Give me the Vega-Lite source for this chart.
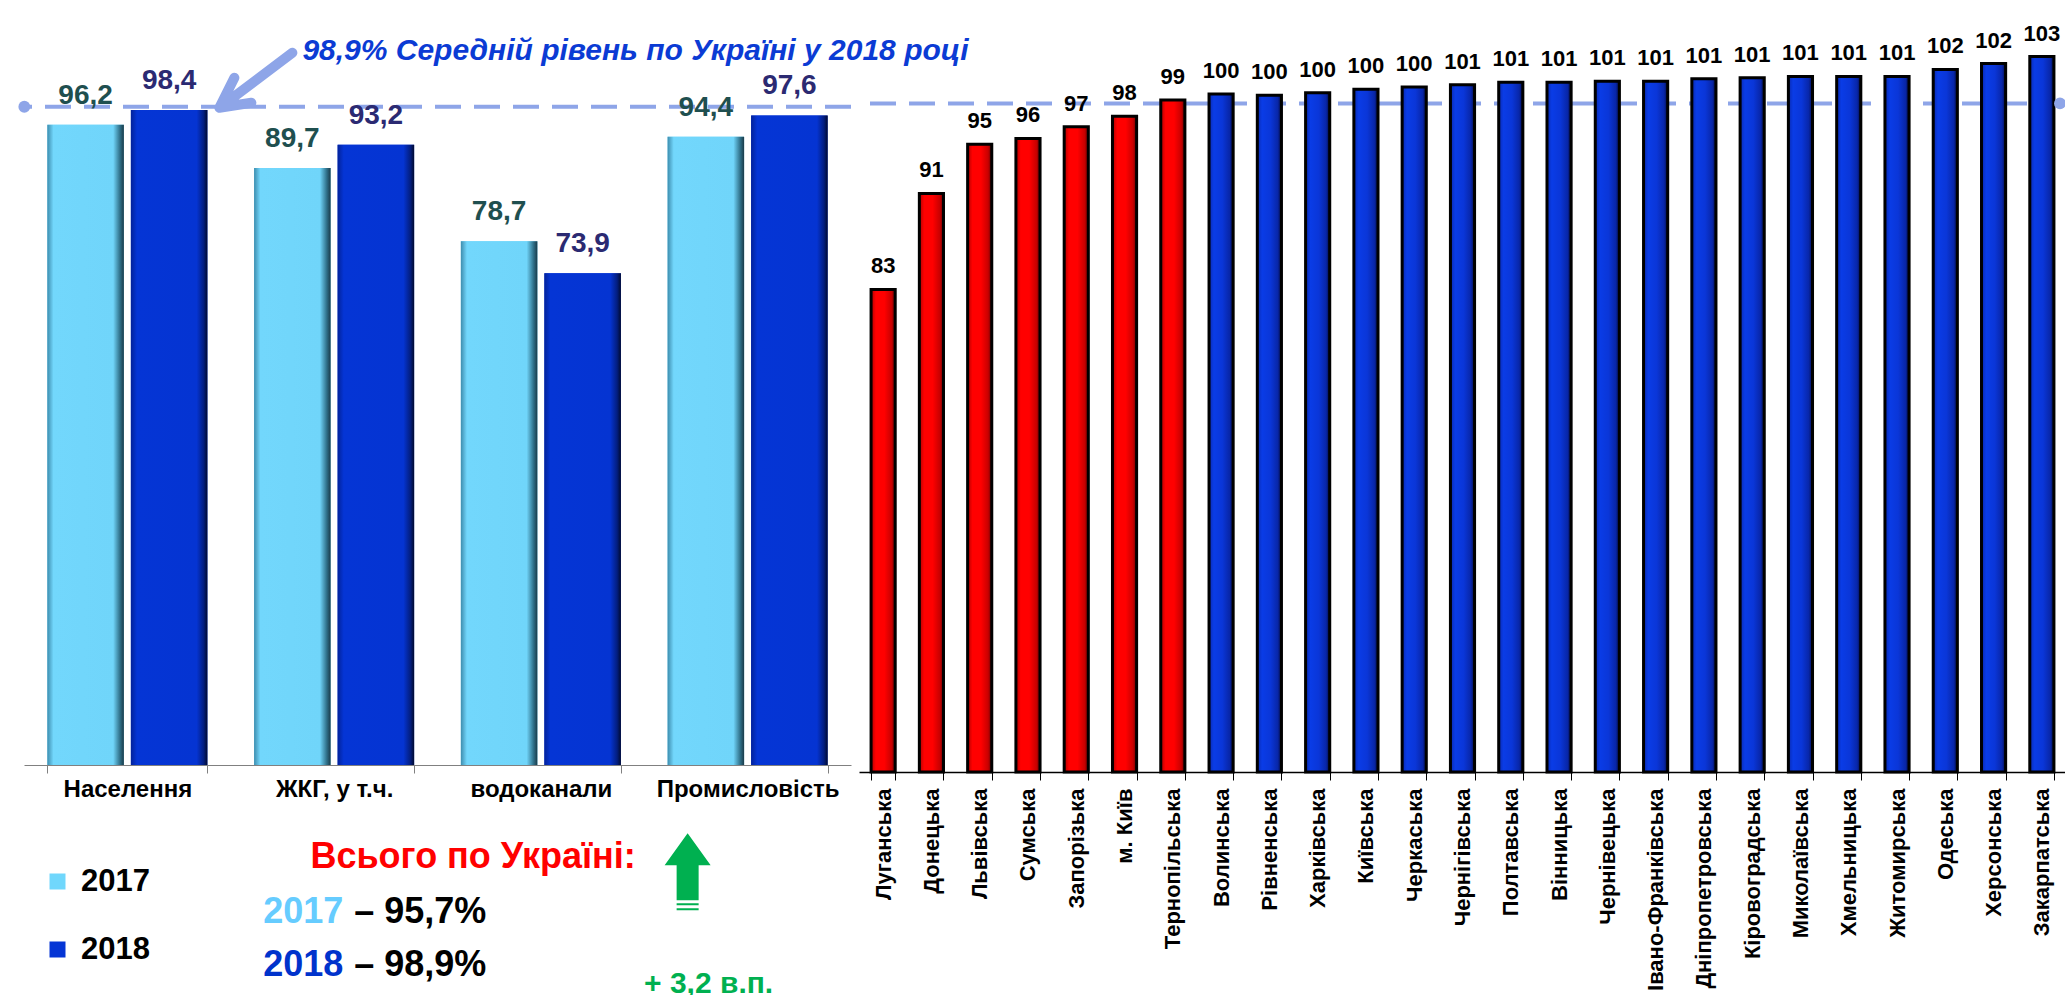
{
  "$schema": "https://vega.github.io/schema/vega-lite/v6.json",
  "padding": {"left": 18, "top": 22, "right": 0, "bottom": 0},
  "background": "white",
  "spacing": 8,
  "bounds": "flush",
  "config": {
    "view": {"stroke": null},
    "font": "Liberation Sans",
    "locale": {"number": {"decimal": ",", "thousands": " ", "grouping": [3], "currency": ["", ""]}},
    "axis": {"tickBand": "extent"}
  },
  "hconcat": [
    {
      "width": 827,
      "height": 740,
      "data": {"values": [
        {"category": "Населення", "year": "2017", "value": 96.2},
        {"category": "Населення", "year": "2018", "value": 98.4},
        {"category": "ЖКГ, у т.ч.", "year": "2017", "value": 89.7},
        {"category": "ЖКГ, у т.ч.", "year": "2018", "value": 93.2},
        {"category": "водоканали", "year": "2017", "value": 78.7},
        {"category": "водоканали", "year": "2018", "value": 73.9},
        {"category": "Промисловість", "year": "2017", "value": 94.4},
        {"category": "Промисловість", "year": "2018", "value": 97.6}
      ]},
      "layer": [
        {
          "data": {"values": [{"avg": 98.9}]},
          "mark": {"type": "rule", "color": "#8EA5E8", "strokeWidth": 4, "strokeDash": [26, 13]},
          "encoding": {
            "y": {"field": "avg", "type": "quantitative", "scale": {"domain": [0, 111.18], "nice": false}, "axis": null}
          }
        },
        {
          "mark": {"type": "bar"},
          "encoding": {
            "x": {"field": "category", "type": "nominal", "sort": null,
              "scale": {"domain": ["Населення", "ЖКГ, у т.ч.", "водоканали", "Промисловість"], "paddingInner": 0.226, "paddingOuter": 0.113},
              "axis": {"title": null, "labelAngle": 0, "labelFontSize": 24, "labelFontWeight": "bold", "labelColor": "#000000",
                "domainColor": "#808080", "tickColor": "#808080", "tickSize": 8, "labelPadding": 4, "labelLimit": 400}},
            "xOffset": {"field": "year", "type": "nominal", "scale": {"paddingInner": 0.084}},
            "y": {"field": "value", "type": "quantitative", "axis": null},
            "color": {"field": "year", "type": "nominal",
              "scale": {"domain": ["2017", "2018"], "range": ["#70D7FC", "#0535D5"]},
              "legend": {"orient": "none", "legendX": 18, "legendY": 841, "title": null, "symbolType": "square",
                "symbolSize": 256, "labelFontSize": 31, "labelFontWeight": "bold", "labelColor": "#000000",
                "rowPadding": 36, "labelOffset": 8, "padding": 0, "symbolStrokeWidth": 0}}
          }
        },
        {
          "mark": {"type": "bar"},
          "encoding": {
            "x": {"field": "category", "type": "nominal", "sort": null},
            "xOffset": {"field": "year", "type": "nominal"},
            "y": {"field": "value", "type": "quantitative", "axis": null},
            "color": {
              "condition": {"test": "datum.year === '2017'",
                "value": {"gradient": "linear", "x1": 0, "y1": 0, "x2": 1, "y2": 0,
                  "stops": [{"offset": 0, "color": "#3E8DAE"}, {"offset": 0.08, "color": "#72D7FC"}, {"offset": 0.86, "color": "#70D5FA"}, {"offset": 0.95, "color": "#2F6F88"}, {"offset": 1, "color": "#1A3A48"}]}},
              "value": {"gradient": "linear", "x1": 0, "y1": 0, "x2": 1, "y2": 0,
                "stops": [{"offset": 0, "color": "#03229A"}, {"offset": 0.08, "color": "#0535D5"}, {"offset": 0.86, "color": "#0534D2"}, {"offset": 0.95, "color": "#031E80"}, {"offset": 1, "color": "#010A30"}]}
            }
          }
        },
        {
          "data": {"values": [{"avg": 98.9}]},
          "mark": {"type": "point", "filled": true, "color": "#8EA5E8", "size": 140, "opacity": 1},
          "encoding": {
            "x": {"datum": "Населення", "type": "nominal", "bandPosition": -0.144},
            "y": {"field": "avg", "type": "quantitative", "axis": null}
          }
        },
        {
          "mark": {"type": "text", "fontSize": 28, "fontWeight": "bold", "baseline": "alphabetic", "dy": -21},
          "encoding": {
            "x": {"field": "category", "type": "nominal", "sort": null},
            "xOffset": {"field": "year", "type": "nominal"},
            "y": {"field": "value", "type": "quantitative", "axis": null},
            "text": {"field": "value", "type": "quantitative", "format": ".1f"},
            "color": {"condition": {"test": "datum.year === '2017'", "value": "#1F4F4F"}, "value": "#2B2A72"}
          }
        },
        {
          "data": {"values": [{"label": ""}]},
          "mark": {"type": "point", "shape": "M165,-54L92,1M107,-29L92,1L124,-4", "size": 4, "filled": false,
            "stroke": "#8EA5E8", "strokeWidth": 10, "strokeCap": "round", "strokeJoin": "round", "opacity": 1},
          "encoding": {
            "x": {"datum": "Населення", "type": "nominal"},
            "y": {"datum": 98.9, "type": "quantitative", "axis": null}
          }
        },
        {
          "data": {"values": [{"label": "98,9% Середній рівень по Україні у 2018 році"}]},
          "mark": {"type": "text", "fontSize": 30, "fontWeight": "bold", "fontStyle": "italic", "align": "left", "baseline": "alphabetic", "dx": 175, "color": "#0B3BD4"},
          "encoding": {
            "x": {"datum": "Населення", "type": "nominal"},
            "y": {"datum": 105.92, "type": "quantitative", "axis": null},
            "text": {"field": "label"}
          }
        },
        {
          "data": {"values": [{"label": "Всього по Україні:"}]},
          "mark": {"type": "text", "fontSize": 36, "fontWeight": "bold", "align": "center", "baseline": "alphabetic", "dx": 139, "color": "#FF0000"},
          "encoding": {
            "x": {"datum": "ЖКГ, у т.ч.", "type": "nominal"},
            "y": {"datum": -15.5, "type": "quantitative", "axis": null},
            "text": {"field": "label"}
          }
        },
        {
          "data": {"values": [{"label": "2017"}]},
          "mark": {"type": "text", "fontSize": 36, "fontWeight": "bold", "align": "left", "baseline": "alphabetic", "dx": -71, "color": "#66CCFF"},
          "encoding": {
            "x": {"datum": "ЖКГ, у т.ч.", "type": "nominal"},
            "y": {"datum": -23.7, "type": "quantitative", "axis": null},
            "text": {"field": "label"}
          }
        },
        {
          "data": {"values": [{"label": "– 95,7%"}]},
          "mark": {"type": "text", "fontSize": 36, "fontWeight": "bold", "align": "left", "baseline": "alphabetic", "dx": 20, "color": "#000000"},
          "encoding": {
            "x": {"datum": "ЖКГ, у т.ч.", "type": "nominal"},
            "y": {"datum": -23.7, "type": "quantitative", "axis": null},
            "text": {"field": "label"}
          }
        },
        {
          "data": {"values": [{"label": "2018"}]},
          "mark": {"type": "text", "fontSize": 36, "fontWeight": "bold", "align": "left", "baseline": "alphabetic", "dx": -71, "color": "#0033CC"},
          "encoding": {
            "x": {"datum": "ЖКГ, у т.ч.", "type": "nominal"},
            "y": {"datum": -31.7, "type": "quantitative", "axis": null},
            "text": {"field": "label"}
          }
        },
        {
          "data": {"values": [{"label": "– 98,9%"}]},
          "mark": {"type": "text", "fontSize": 36, "fontWeight": "bold", "align": "left", "baseline": "alphabetic", "dx": 20, "color": "#000000"},
          "encoding": {
            "x": {"datum": "ЖКГ, у т.ч.", "type": "nominal"},
            "y": {"datum": -31.7, "type": "quantitative", "axis": null},
            "text": {"field": "label"}
          }
        },
        {
          "data": {"values": [{"label": ""}]},
          "mark": {"type": "point", "shape": "M-60,-35L-37,-3L-49,-3L-49,32L-71,32L-71,-3L-83,-3ZM-71,35L-49,35L-49,37L-71,37ZM-71,40L-49,40L-49,42L-71,42Z",
            "size": 4, "filled": true, "color": "#00B050", "opacity": 1, "strokeWidth": 0},
          "encoding": {
            "x": {"datum": "Промисловість", "type": "nominal"},
            "y": {"datum": -15.5, "type": "quantitative", "axis": null}
          }
        },
        {
          "data": {"values": [{"label": "+ 3,2 в.п."}]},
          "mark": {"type": "text", "fontSize": 30, "fontWeight": "bold", "align": "center", "baseline": "alphabetic", "dx": -39, "color": "#00B050"},
          "encoding": {
            "x": {"datum": "Промисловість", "type": "nominal"},
            "y": {"datum": -34.25, "type": "quantitative", "axis": null},
            "text": {"field": "label"}
          }
        }
      ]
    },
    {
      "width": 1207,
      "height": 747,
      "data": {"values": [
        {"region": "Луганська", "value": 83.0},
        {"region": "Донецька", "value": 91.2},
        {"region": "Львівська", "value": 95.4},
        {"region": "Сумська", "value": 95.9},
        {"region": "Запорізька", "value": 96.9},
        {"region": "м. Київ", "value": 97.8},
        {"region": "Тернопільська", "value": 99.2},
        {"region": "Волинська", "value": 99.7},
        {"region": "Рівненська", "value": 99.6},
        {"region": "Харківська", "value": 99.8},
        {"region": "Київська", "value": 100.1},
        {"region": "Черкаська", "value": 100.3},
        {"region": "Чернігівська", "value": 100.5},
        {"region": "Полтавська", "value": 100.7},
        {"region": "Вінницька", "value": 100.7},
        {"region": "Чернівецька", "value": 100.8},
        {"region": "Івано-Франківська", "value": 100.8},
        {"region": "Дніпропетровська", "value": 101.0},
        {"region": "Кіровоградська", "value": 101.1},
        {"region": "Миколаївська", "value": 101.2},
        {"region": "Хмельницька", "value": 101.2},
        {"region": "Житомирська", "value": 101.2},
        {"region": "Одеська", "value": 101.8},
        {"region": "Херсонська", "value": 102.3},
        {"region": "Закарпатська", "value": 102.9}
      ]},
      "layer": [
        {
          "data": {"values": [{"avg": 98.9}]},
          "mark": {"type": "rule", "color": "#8EA5E8", "strokeWidth": 4, "strokeDash": [26, 13]},
          "encoding": {
            "y": {"field": "avg", "type": "quantitative", "scale": {"domain": [41.75, 105.6], "nice": false, "zero": false, "clamp": true}, "axis": null}
          }
        },
        {
          "mark": {"type": "bar", "stroke": "#000000", "strokeWidth": 3},
          "encoding": {
            "x": {"field": "region", "type": "nominal", "sort": null,
              "scale": {"paddingInner": 0.5, "paddingOuter": 0.25},
              "axis": {"title": null, "labelAngle": -90, "labelAlign": "right", "labelBaseline": "middle", "labelFontSize": 22,
                "labelFontWeight": "bold", "labelColor": "#000000", "domainColor": "#000000", "domainWidth": 1.5,
                "tickColor": "#000000", "tickSize": 8, "labelPadding": 8, "labelLimit": 400}},
            "y": {"field": "value", "type": "quantitative", "axis": null},
            "color": {
              "condition": {"test": "round(datum.value) < 100",
                "value": {"gradient": "linear", "x1": 0, "y1": 0, "x2": 1, "y2": 0,
                  "stops": [{"offset": 0, "color": "#B00000"}, {"offset": 0.2, "color": "#FF0000"}, {"offset": 0.55, "color": "#FF0000"}, {"offset": 0.85, "color": "#C80000"}, {"offset": 1, "color": "#600000"}]}},
              "value": {"gradient": "linear", "x1": 0, "y1": 0, "x2": 1, "y2": 0,
                "stops": [{"offset": 0, "color": "#0A2AB0"}, {"offset": 0.2, "color": "#0A3CE6"}, {"offset": 0.55, "color": "#0A36D8"}, {"offset": 0.85, "color": "#0826A8"}, {"offset": 1, "color": "#020A40"}]}
            }
          }
        },
        {
          "data": {"values": [{"avg": 98.9}]},
          "mark": {"type": "point", "filled": true, "color": "#8EA5E8", "size": 140, "opacity": 1},
          "encoding": {
            "x": {"datum": "Закарпатська", "type": "nominal", "bandPosition": 1.25},
            "y": {"field": "avg", "type": "quantitative", "axis": null}
          }
        },
        {
          "mark": {"type": "text", "fontSize": 22, "fontWeight": "bold", "baseline": "alphabetic", "dy": -16, "color": "#000000"},
          "encoding": {
            "x": {"field": "region", "type": "nominal", "sort": null},
            "y": {"field": "value", "type": "quantitative", "axis": null},
            "text": {"field": "value", "type": "quantitative", "format": ".0f"}
          }
        }
      ]
    }
  ]
}
